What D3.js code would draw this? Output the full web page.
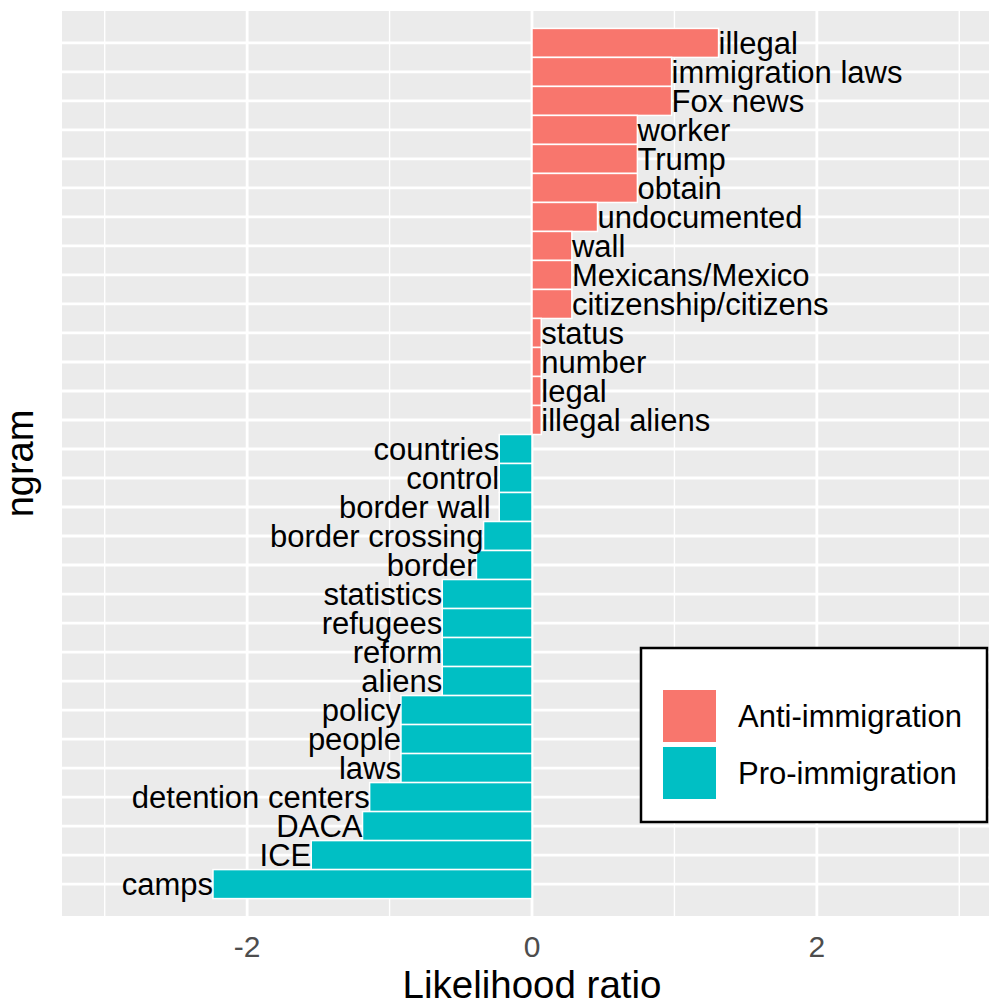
<!DOCTYPE html>
<html><head><meta charset="utf-8">
<script src="https://cdn.jsdelivr.net/npm/d3@7"></script>
<style>body{margin:0;background:#fff}svg{display:block}text{font-family:Arial,"Liberation Sans",sans-serif}</style>
</head><body>
<script>
const ngrams = ["illegal","immigration laws","Fox news","worker","Trump","obtain","undocumented","wall","Mexicans/Mexico","citizenship/citizens","status","number","legal","illegal aliens","countries","control","border wall ","border crossing","border","statistics","refugees","reform","aliens","policy","people","laws","detention centers","DACA","ICE","camps"];
const ratios = [1.31,0.98,0.98,0.74,0.74,0.74,0.46,0.28,0.28,0.28,0.065,0.065,0.065,0.065,-0.23,-0.23,-0.23,-0.34,-0.39,-0.63,-0.63,-0.63,-0.63,-0.92,-0.92,-0.92,-1.14,-1.19,-1.55,-2.24];
const groups = ["Anti-immigration","Pro-immigration"];
const groupColors = ["#F8766D","#00BFC4"];
const xTicks = [-2,0,2];
const xMinor = [-3,-1,1,3];

const W=989,H=1005;
const svg=d3.select("body").append("svg").attr("width",W).attr("height",H);
const pL=62,pR=1002,pT=11,pB=916;
const x=d3.scaleLinear().domain([-3.3,3.3]).range([pL,pR]);
const y=d3.scaleBand().domain(ngrams).range([pT,pB]).paddingOuter(0.6).paddingInner(0);
const color=d3.scaleOrdinal().domain(groups).range(groupColors);
const data=ngrams.map((n,i)=>({n,v:ratios[i],g:ratios[i]>=0?groups[0]:groups[1]}));

svg.append("defs").append("clipPath").attr("id","pc").append("rect").attr("x",pL).attr("y",pT).attr("width",pR-pL).attr("height",pB-pT);
const panel=svg.append("g").attr("clip-path","url(#pc)");
panel.append("rect").attr("x",pL).attr("y",pT).attr("width",pR-pL).attr("height",pB-pT).attr("fill","#EBEBEB");
panel.selectAll(".mn").data(xMinor).join("line").attr("x1",d=>x(d)).attr("x2",d=>x(d)).attr("y1",pT).attr("y2",pB).attr("stroke","#fff").attr("stroke-width",1.4);
panel.selectAll(".mj").data(xTicks).join("line").attr("x1",d=>x(d)).attr("x2",d=>x(d)).attr("y1",pT).attr("y2",pB).attr("stroke","#fff").attr("stroke-width",2.8);
panel.selectAll(".hy").data(ngrams).join("line").attr("x1",pL).attr("x2",pR).attr("y1",d=>y(d)+y.bandwidth()/2).attr("y2",d=>y(d)+y.bandwidth()/2).attr("stroke","#fff").attr("stroke-width",2.8);
panel.selectAll(".bar").data(data).join("rect")
  .attr("x",d=>x(Math.min(0,d.v))).attr("width",d=>Math.abs(x(d.v)-x(0)))
  .attr("y",d=>y(d.n)).attr("height",y.bandwidth())
  .attr("fill",d=>color(d.g)).attr("stroke","#fff").attr("stroke-width",1.5);
svg.selectAll(".lab").data(data).join("text")
  .attr("x",d=>x(d.v)).attr("y",d=>y(d.n)+y.bandwidth()/2).attr("dy","0.35em")
  .attr("text-anchor",d=>d.v>=0?"start":"end").style("white-space","pre")
  .attr("font-size",31).attr("fill","#000").text(d=>d.n);

// x axis labels
svg.selectAll(".tl").data(xTicks).join("text").attr("x",d=>x(d)).attr("y",957)
  .attr("text-anchor","middle").attr("font-size",30).attr("fill","#4D4D4D").text(d=>d<0?"-"+Math.abs(d):d);
svg.append("text").attr("x",(pL+pR)/2).attr("y",998).attr("text-anchor","middle").attr("font-size",38.5).attr("fill","#000").text("Likelihood ratio");
svg.append("text").attr("transform",`translate(33,${(pT+pB)/2}) rotate(-90)`).attr("text-anchor","middle").attr("font-size",38).attr("fill","#000").text("ngram");

// legend
const lg=svg.append("g");
lg.append("rect").attr("x",641).attr("y",648).attr("width",346).attr("height",174).attr("fill","#fff").attr("stroke","#000").attr("stroke-width",2.5);
groups.forEach((g,i)=>{
  lg.append("rect").attr("x",663).attr("y",690+i*57).attr("width",53).attr("height",52).attr("fill",color(g));
  lg.append("text").attr("x",738).attr("y",727+i*57).attr("font-size",31).attr("fill","#000").text(g);
});
</script>
</body></html>
